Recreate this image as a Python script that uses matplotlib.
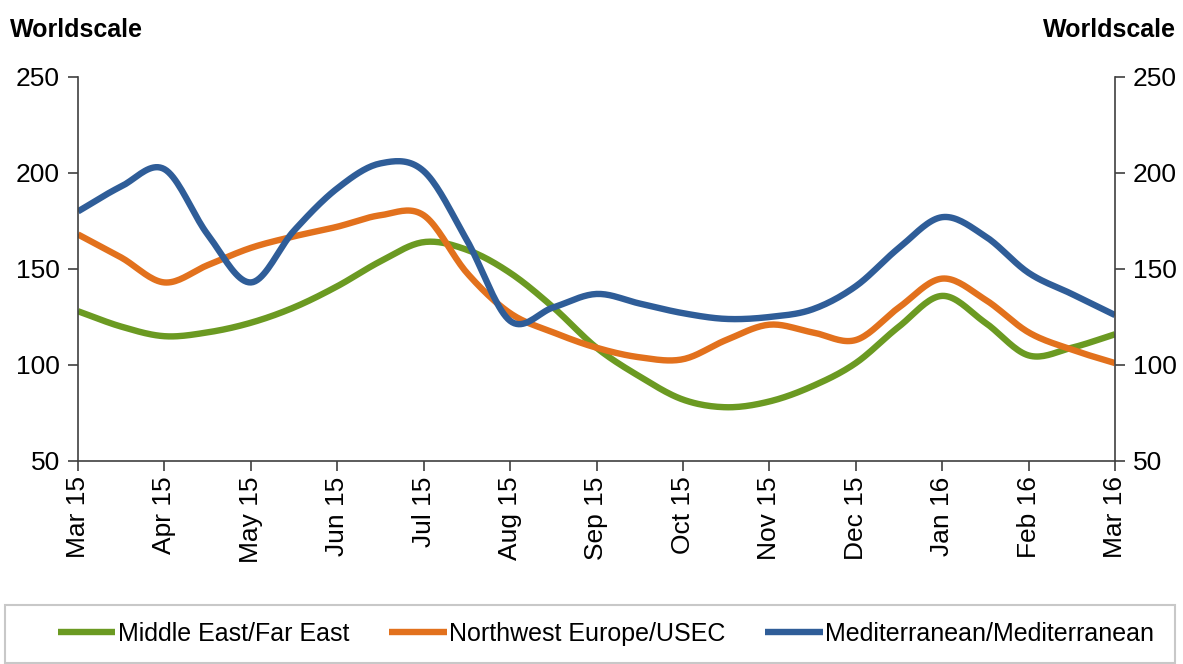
import numpy as np
import matplotlib
matplotlib.use("Agg")
import matplotlib.pyplot as plt
from matplotlib.patches import Rectangle

# Month labels along the x axis
months = ["Mar 15", "Apr 15", "May 15", "Jun 15", "Jul 15", "Aug 15", "Sep 15",
          "Oct 15", "Nov 15", "Dec 15", "Jan 16", "Feb 16", "Mar 16"]

# Half-monthly Worldscale readings (start of Mar 15 .. start of Mar 16)
middle_east_far_east = [128, 120, 115, 117, 122, 130, 141, 154, 164, 160, 148, 130, 109,
                        94, 82, 78, 81, 89, 101, 120, 136, 122, 105, 109, 116]
nw_europe_usec = [168, 156, 143, 152, 161, 167, 172, 178, 178, 148, 127, 117, 109,
                  104, 103, 113, 121, 117, 113, 130, 145, 134, 117, 108, 101]
mediterranean = [180, 193, 202, 168, 143, 170, 192, 205, 201, 165, 123, 130, 137,
                 132, 127, 124, 125, 129, 141, 161, 177, 167, 148, 137, 126]

series_names = ["Middle East/Far East", "Northwest Europe/USEC", "Mediterranean/Mediterranean"]
series_colors = ["#6b9a22", "#e2711d", "#2f5d98"]


def smooth(x, y, n=20):
    """Catmull-Rom spline through the points, for a smoothed line."""
    x = np.asarray(x, float)
    y = np.asarray(y, float)
    px = np.concatenate([[2 * x[0] - x[1]], x, [2 * x[-1] - x[-2]]])
    py = np.concatenate([[2 * y[0] - y[1]], y, [2 * y[-1] - y[-2]]])
    xs, ys = [], []
    t = np.linspace(0, 1, n, endpoint=False)
    for i in range(1, len(px) - 2):
        for arr, out in ((px, xs), (py, ys)):
            p0, p1, p2, p3 = arr[i - 1], arr[i], arr[i + 1], arr[i + 2]
            out.append(0.5 * ((2 * p1) + (-p0 + p2) * t
                              + (2 * p0 - 5 * p1 + 4 * p2 - p3) * t ** 2
                              + (-p0 + 3 * p1 - 3 * p2 + p3) * t ** 3))
    xs.append([x[-1]])
    ys.append([y[-1]])
    return np.concatenate(xs), np.concatenate(ys)


plt.rcParams["font.family"] = ["Liberation Sans", "DejaVu Sans"]

W, H, DPI = 1183, 664, 100
fig = plt.figure(figsize=(W / DPI, H / DPI), dpi=DPI)
ax = fig.add_axes([78 / W, 1 - 461 / H, (1115 - 78) / W, (461 - 77) / H])

xpos = np.arange(len(mediterranean)) / 2.0
for vals, name, col in zip([middle_east_far_east, nw_europe_usec, mediterranean],
                           series_names, series_colors):
    sx, sy = smooth(xpos, vals)
    ax.plot(sx, sy, color=col, lw=4.6, solid_capstyle="butt", label=name)

ax.set_xlim(0, len(months) - 1)
ax.set_ylim(50, 250)
ax.set_yticks([50, 100, 150, 200, 250])
ax.set_xticks(np.arange(len(months)))
ax.set_xticklabels(months, rotation=90, fontsize=19)

spine_col = "#404040"
ax.spines["top"].set_visible(False)
for s in ["left", "right", "bottom"]:
    ax.spines[s].set_color(spine_col)
    ax.spines[s].set_linewidth(1.2)

ax.tick_params(axis="x", direction="out", length=7, width=1.2, color=spine_col, pad=4)
ax.tick_params(axis="y", direction="out", length=7, width=1.2, color=spine_col,
               labelsize=19, pad=6, labelright=True, right=True)

fig.text(10 / W, 1 - 30 / H, "Worldscale", fontsize=18, fontweight="bold",
         ha="left", va="center")
fig.text(1176 / W, 1 - 30 / H, "Worldscale", fontsize=18, fontweight="bold",
         ha="right", va="center")

# Legend frame spanning the width of the figure
fig.patches.append(Rectangle((5 / W, 1 - 663 / H), 1170 / W, 58 / H,
                             transform=fig.transFigure, fill=False,
                             edgecolor="#c8c8c8", linewidth=1.5))
fig.legend(loc="center", bbox_to_anchor=(606 / W, 1 - 634 / H), ncol=3,
           fontsize=18, frameon=False, handlelength=2.3, handletextpad=0.1,
           columnspacing=1.6)

fig.savefig("out.png", dpi=DPI)
